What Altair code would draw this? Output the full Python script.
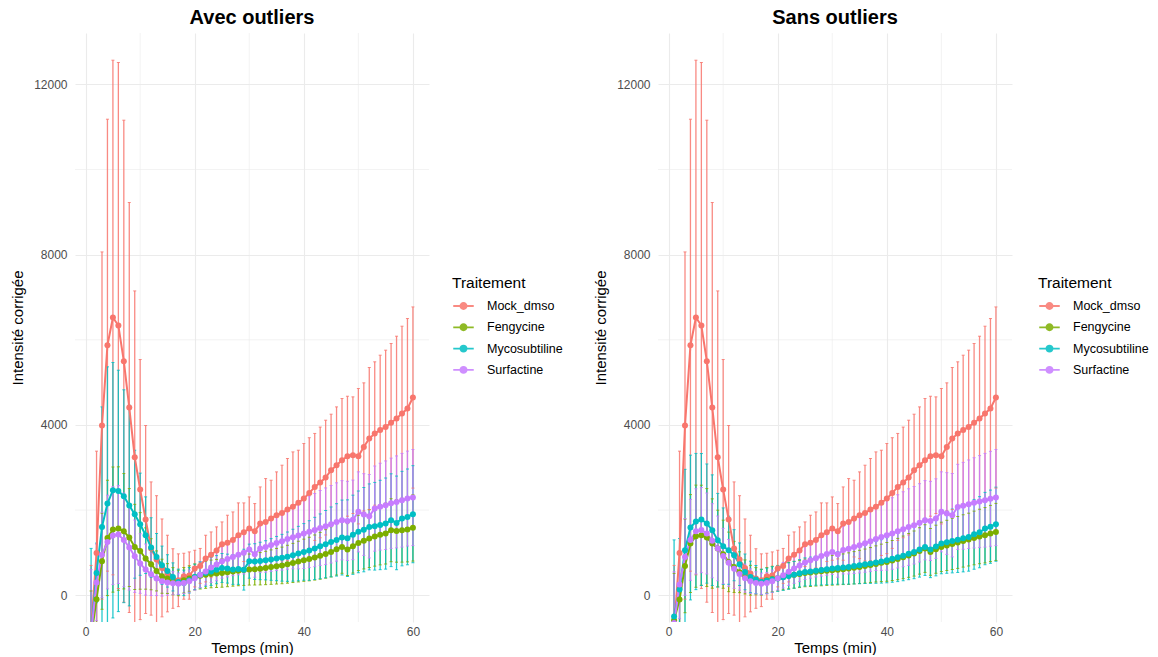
import altair as alt
import pandas as pd

TIME = list(range(1, 61))
TREATMENTS = ["Mock_dmso", "Fengycine", "Mycosubtiline", "Surfactine"]
COLORS = ["#F8766D", "#7CAE00", "#00BFC4", "#C77CFF"]
PANELS = ["Avec outliers", "Sans outliers"]
X_TICKS = [0, 20, 40, 60]
X_MINOR = [10, 30, 50]
Y_TICKS = [0, 4000, 8000, 12000]
Y_MINOR = [2000, 6000, 10000]
X_DOMAIN = [-1.95, 62.95]
Y_DOMAIN = [-629, 13206]

# ---- Mock_dmso (same in both panels) ----
MOCK_MEAN = [-800, 994, 3986, 5873, 6523, 6335, 5497, 4409, 3241, 2482,
             1778, 1097, 838, 642, 509, 392, 352, 446, 462, 626,
             689, 861, 950, 1050, 1198, 1230, 1300, 1409, 1480, 1566,
             1503, 1683, 1720, 1800, 1879, 1930, 2012, 2080, 2170, 2270,
             2400, 2544, 2650, 2763, 2935, 3053, 3171, 3265, 3289, 3265,
             3484, 3680, 3798, 3880, 3954, 4050, 4150, 4267, 4385, 4644]
MOCK_SD = [1500, 2390, 4078, 5308, 6044, 6178, 5661, 4815, 3907, 3054,
           2208, 1565, 1500, 1150, 900, 700, 620, 540, 556, 430,
           410, 548, 537, 555, 524, 649, 657, 760, 689, 744,
           650, 861, 1020, 901, 1018, 1124, 1199, 1287, 1236, 1293,
           1300, 1256, 1300, 1348, 1317, 1371, 1449, 1409, 1370, 1590,
           1504, 1669, 1684, 1758, 1802, 1862, 1934, 2052, 2114, 2128]

# ---- Avec outliers ----
FENG_A_MEAN = [-1000, -94, 798, 1346, 1542, 1566, 1503, 1355, 1135, 1041,
               862, 728, 571, 446, 392, 329, 289, 352, 392, 430,
               455, 480, 500, 512, 524, 540, 558, 575, 590, 603,
               612, 622, 640, 660, 681, 700, 728, 758, 790, 822,
               850, 885, 925, 970, 1018, 1078, 1135, 1073, 1150, 1229,
               1282, 1330, 1378, 1418, 1448, 1527, 1511, 1527, 1543, 1582]
FENG_A_SD = [1100, 1100, 1128, 1355, 1470, 1450, 1355, 1150, 1000, 900,
             720, 600, 470, 400, 350, 320, 300, 300, 300, 305,
             310, 318, 325, 330, 336, 340, 345, 352, 360, 365,
             372, 380, 392, 405, 418, 430, 445, 460, 478, 495,
             512, 530, 550, 570, 590, 605, 620, 610, 630, 650,
             665, 680, 695, 705, 715, 740, 735, 750, 760, 780]
MYCO_A_MEAN = [-900, 524, 1605, 2153, 2466, 2450, 2325, 2106, 1903, 1668,
               1410, 1120, 900, 704, 571, 430, 313, 290, 352, 430,
               480, 530, 560, 600, 640, 625, 605, 615, 600, 800,
               790, 805, 820, 840, 861, 880, 905, 940, 978, 1018,
               1050, 1100, 1150, 1200, 1253, 1300, 1355, 1340, 1420, 1488,
               1540, 1605, 1620, 1650, 1683, 1762, 1699, 1800, 1840, 1903]
MYCO_A_SD = [2000, 700, 2819, 3211, 3000, 2835, 2500, 2357, 1503, 1200,
             900, 700, 550, 450, 380, 330, 300, 300, 300, 300,
             310, 320, 330, 330, 340, 340, 350, 360, 480, 400,
             420, 440, 460, 490, 520, 550, 580, 610, 640, 665,
             700, 730, 760, 790, 820, 850, 880, 900, 930, 960,
             990, 1010, 1030, 1050, 1070, 1090, 1100, 1110, 1125, 1140]
SURF_A_MEAN = [-900, 300, 950, 1250, 1400, 1425, 1300, 1120, 916, 744,
               603, 493, 392, 329, 300, 283, 270, 290, 330, 400,
               480, 560, 650, 720, 800, 850, 900, 950, 1000, 1073,
               963, 1096, 1130, 1180, 1229, 1270, 1320, 1360, 1400, 1448,
               1490, 1530, 1580, 1620, 1667, 1720, 1761, 1746, 1770, 1958,
               1895, 1856, 2035, 2080, 2114, 2160, 2192, 2231, 2270, 2294]
SURF_A_SD = [1500, 900, 1000, 1100, 1150, 1150, 1100, 1000, 850, 700,
             600, 500, 400, 350, 300, 270, 250, 250, 260, 280,
             300, 320, 350, 380, 400, 420, 440, 470, 500, 530,
             540, 560, 590, 620, 650, 680, 710, 740, 780, 820,
             840, 860, 880, 900, 910, 920, 930, 930, 935, 940,
             960, 980, 1000, 1020, 1040, 1060, 1080, 1100, 1115, 1128]

# ---- Sans outliers ----
FENG_S_MEAN = [-587, -102, 689, 1214, 1386, 1409, 1355, 1214, 1097, 963,
               783, 665, 540, 430, 352, 329, 305, 352, 380, 400,
               430, 460, 480, 500, 524, 535, 550, 562, 575, 587,
               598, 610, 625, 645, 665, 685, 710, 735, 760, 783,
               815, 850, 890, 935, 979, 1040, 1096, 1018, 1080, 1135,
               1170, 1205, 1240, 1275, 1307, 1345, 1380, 1409, 1450, 1487]
FENG_S_SD = [1100, 1100, 1100, 1150, 1200, 1175, 1150, 1050, 900, 800,
             700, 600, 480, 400, 350, 320, 300, 300, 300, 300,
             305, 310, 315, 320, 325, 330, 335, 340, 345, 350,
             355, 360, 370, 380, 390, 400, 410, 425, 440, 455,
             470, 485, 500, 515, 530, 545, 560, 550, 565, 580,
             590, 600, 610, 615, 620, 630, 640, 650, 660, 670]
MYCO_S_MEAN = [-500, 133, 1057, 1590, 1731, 1778, 1683, 1527, 1292, 1151,
               1057, 940, 728, 548, 430, 368, 313, 337, 370, 392,
               420, 450, 480, 515, 548, 560, 575, 590, 610, 626,
               640, 650, 665, 685, 705, 725, 748, 770, 795, 822,
               855, 890, 930, 975, 1018, 1075, 1135, 1073, 1145, 1214,
               1245, 1275, 1305, 1338, 1370, 1430, 1480, 1566, 1610, 1668]
MYCO_S_SD = [1800, 1200, 1900, 1700, 1600, 1550, 1400, 1300, 1100, 900,
             800, 600, 500, 420, 370, 330, 300, 300, 300, 300,
             305, 310, 315, 320, 330, 335, 340, 350, 360, 370,
             380, 390, 405, 420, 435, 450, 470, 490, 510, 530,
             550, 570, 590, 610, 630, 650, 670, 660, 690, 710,
             730, 750, 770, 790, 805, 820, 835, 850, 860, 870]
SURF_S_MEAN = [-650, 250, 900, 1300, 1500, 1530, 1450, 1280, 1100, 920,
               760, 620, 500, 400, 330, 290, 270, 285, 330, 400,
               470, 550, 630, 700, 770, 820, 870, 920, 970, 1018,
               963, 1060, 1090, 1130, 1174, 1220, 1270, 1320, 1365, 1409,
               1450, 1500, 1550, 1600, 1644, 1700, 1762, 1745, 1800, 1958,
               1919, 1880, 2075, 2100, 2137, 2170, 2200, 2231, 2265, 2294]
SURF_S_SD = [1200, 800, 900, 950, 1000, 1000, 950, 870, 760, 650,
             550, 460, 380, 330, 290, 260, 250, 250, 260, 280,
             300, 320, 350, 380, 400, 420, 440, 470, 500, 530,
             540, 560, 590, 620, 650, 680, 710, 740, 780, 820,
             840, 860, 880, 900, 910, 920, 930, 930, 935, 940,
             960, 980, 1000, 1020, 1040, 1060, 1080, 1100, 1115, 1128]

SERIES = {
    "Avec outliers": {
        "Mock_dmso": (MOCK_MEAN, MOCK_SD),
        "Fengycine": (FENG_A_MEAN, FENG_A_SD),
        "Mycosubtiline": (MYCO_A_MEAN, MYCO_A_SD),
        "Surfactine": (SURF_A_MEAN, SURF_A_SD),
    },
    "Sans outliers": {
        "Mock_dmso": (MOCK_MEAN, MOCK_SD),
        "Fengycine": (FENG_S_MEAN, FENG_S_SD),
        "Mycosubtiline": (MYCO_S_MEAN, MYCO_S_SD),
        "Surfactine": (SURF_S_MEAN, SURF_S_SD),
    },
}

FONT = "Liberation Sans"
LEGEND_PATH = ("M-1,0L1,0M-0.3,0A0.3,0.3,0,1,1,0.3,0"
               "A0.3,0.3,0,1,1,-0.3,0Z")


def make_df(panel):
    rows = []
    for name in TREATMENTS:
        means, sds = SERIES[panel][name]
        for t, m, s in zip(TIME, means, sds):
            rows.append({"Temps": t, "Traitement": name, "moyenne": m,
                         "bas": m - s, "haut": m + s})
    return pd.DataFrame(rows)


def make_panel(panel, legend_x):
    df = make_df(panel)
    base = alt.Chart(df)
    xs = alt.Scale(domain=X_DOMAIN, nice=False, zero=False)
    ys = alt.Scale(domain=Y_DOMAIN, nice=False, zero=False)
    x = alt.X("Temps:Q", scale=xs,
              axis=alt.Axis(values=X_TICKS, title="Temps (min)", format="d"))
    color = alt.Color(
        "Traitement:N",
        scale=alt.Scale(domain=TREATMENTS, range=COLORS),
        sort=TREATMENTS,
        legend=alt.Legend(
            title="Traitement", orient="none", legendX=legend_x, legendY=243,
            symbolType=LEGEND_PATH, symbolSize=420, symbolStrokeWidth=1.8,
            labelFontSize=12.5, titleFontSize=15.5, titleFontWeight="normal",
            titleColor="black", labelColor="black", labelFont=FONT,
            titleFont=FONT, rowPadding=2.3, titlePadding=3, labelOffset=12,
        ),
    )

    minor_x = alt.Chart(pd.DataFrame({"v": X_MINOR})).mark_rule(
        color="#EBEBEB", strokeWidth=0.6).encode(
        x=alt.X("v:Q", scale=xs))
    minor_y = alt.Chart(pd.DataFrame({"v": Y_MINOR})).mark_rule(
        color="#EBEBEB", strokeWidth=0.6).encode(
        y=alt.Y("v:Q", scale=ys))

    y_axis = alt.Axis(values=Y_TICKS, title="Intensité corrigée", format="d")

    err = base.mark_rule(strokeWidth=1.3, opacity=0.85, clip=True).encode(
        x=x, y=alt.Y("bas:Q", scale=ys, axis=y_axis), y2="haut:Q",
        color=color)
    cap_hi = base.mark_tick(size=3, thickness=1, opacity=0.85, clip=True,
                            orient="horizontal").encode(
        x=x, y=alt.Y("haut:Q", scale=ys), color=color)
    cap_lo = base.mark_tick(size=3, thickness=1, opacity=0.85, clip=True,
                            orient="horizontal").encode(
        x=x, y=alt.Y("bas:Q", scale=ys), color=color)
    line = base.mark_line(strokeWidth=2, clip=True).encode(
        x=x, y=alt.Y("moyenne:Q", scale=ys), color=color,
        order="Temps:Q")
    pts = base.mark_circle(size=36, opacity=1, clip=True).encode(
        x=x, y=alt.Y("moyenne:Q", scale=ys), color=color)

    return alt.layer(minor_x, minor_y, err, cap_hi, cap_lo, line, pts).properties(
        width=354, height=589,
        title=alt.TitleParams(panel, fontSize=20, fontWeight="bold",
                              font=FONT, anchor="middle", frame="group",
                              offset=5, color="black"),
    )


chart = alt.hconcat(make_panel(PANELS[0], 377), make_panel(PANELS[1], 380),
                    spacing=30).resolve_scale(
    color="independent").resolve_legend(color="independent").properties(
    padding={"left": 10, "top": 7, "right": 5, "bottom": 0}
).configure_view(stroke=None).configure_axis(
    grid=True, gridColor="#EBEBEB", gridWidth=1.1, domain=False, ticks=False,
    labelColor="#4D4D4D", labelFontSize=12, labelFont=FONT,
    titleFont=FONT, titleFontSize=15, titleFontWeight="normal",
    titleColor="black",
).configure_axisX(labelPadding=4, titlePadding=3).configure_axisY(
    labelPadding=8, titlePadding=8)

chart.save("out.html", embed_options={"renderer": "svg", "actions": False})
